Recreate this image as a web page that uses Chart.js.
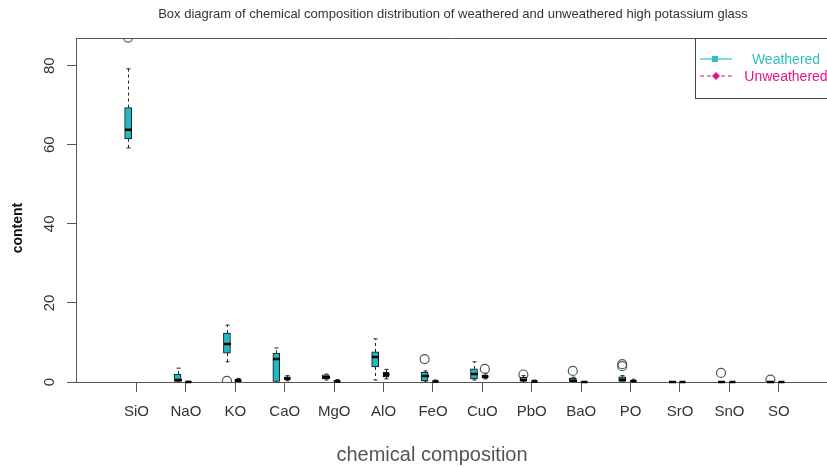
<!DOCTYPE html>
<html>
<head>
<meta charset="utf-8">
<script src="https://cdn.jsdelivr.net/npm/chart.js@4"></script>
<style>
  html, body { margin: 0; padding: 0; background: #fff; overflow: hidden; }
  canvas { display: block; }
</style>
</head>
<body>
<canvas id="chart" width="827" height="468"></canvas>
<script>
// ===== Data =====
const categories = ["SiO", "NaO", "KO", "CaO", "MgO", "AlO", "FeO", "CuO", "PbO", "BaO", "PO", "SrO", "SnO", "SO"];
const yTicks = [0, 20, 40, 60, 80];

// weathered (box stats per category)
const wMin = [59.2, 0, 5.1, 0, 0.5, 0.5, 0, 0.5, 0, 0, 0, 0, 0, 0];
const wQ1  = [61.5, 0, 7.3, 0, 0.8, 3.8, 0.3, 0.8, 0.2, 0, 0, 0, 0, 0];
const wMed = [63.8, 0.5, 9.6, 5.8, 1.2, 6.3, 1.5, 2.0, 0.5, 0.3, 0.6, 0, 0, 0];
const wQ3  = [69.4, 2.0, 12.4, 7.3, 1.8, 7.6, 2.5, 3.3, 1.2, 1.0, 1.3, 0, 0, 0];
const wMax = [79.2, 3.5, 14.4, 8.6, 2.0, 10.9, 2.8, 5.1, 1.6, 1.2, 1.6, 0, 0, 0];
const wOut = [[87.1], [], [0.3], [], [], [], [5.8], [], [1.9], [2.8], [4.0, 4.5], [], [2.3], [0.6]];

// unweathered
const uMin = [null, 0, 0, 0.3, 0, 0.8, 0, 0.8, 0, 0, 0, 0, 0, 0];
const uQ1  = [null, 0, 0.1, 0.6, 0, 1.3, 0, 1.0, 0, 0, 0, 0, 0, 0];
const uMed = [null, 0, 0.3, 0.9, 0.1, 1.9, 0.1, 1.4, 0.1, 0, 0.2, 0, 0, 0];
const uQ3  = [null, 0.1, 0.7, 1.3, 0.4, 2.5, 0.3, 1.8, 0.3, 0.1, 0.5, 0, 0, 0];
const uMax = [null, 0.2, 0.9, 1.6, 0.6, 3.2, 0.5, 2.2, 0.5, 0.1, 0.7, 0.1, 0.1, 0.1];
const uOut = [[], [], [], [], [], [], [], [3.3], [], [], [], [], [], []];

// ===== Groups (style + position shift) =====
const groups = [
  { name: "Weathered", shift: -0.17, half: 3, fill: "#22b8c0", text: "#2fbfc0",
    min: wMin, q1: wQ1, med: wMed, q3: wQ3, max: wMax, out: wOut },
  { name: "Unweathered", shift: 0.05, half: 2.5, fill: "#7d1838", text: "#e2168a",
    min: uMin, q1: uQ1, med: uMed, q3: uQ3, max: uMax, out: uOut }
];

function boxData(g) {
  const pts = [];
  categories.forEach((c, i) => {
    if (g.q1[i] == null) return;
    pts.push({ x: i + 1 + g.shift, y: [g.q1[i], g.q3[i]] });
  });
  return pts;
}

function outlierData(g) {
  const pts = [];
  g.out.forEach((list, i) => list.forEach(v => pts.push({ x: i + 1 + g.shift, y: v })));
  return pts;
}

// ===== Whiskers, medians, frame, texts, legend =====
const boxPlugin = {
  id: "boxExtras",
  beforeDatasetsDraw(chart) {
    const { ctx, chartArea, scales: { x, y } } = chart;
    ctx.save();
    ctx.beginPath();
    ctx.rect(chartArea.left, chartArea.top, chartArea.right - chartArea.left, chartArea.bottom - chartArea.top);
    ctx.clip();
    ctx.strokeStyle = "#222";
    ctx.lineWidth = 1;
    groups.forEach(g => {
      categories.forEach((c, i) => {
        if (g.med[i] == null) return;
        const px = Math.round(x.getPixelForValue(i + 1 + g.shift)) + 0.5;
        const yq1 = y.getPixelForValue(g.q1[i]), yq3 = y.getPixelForValue(g.q3[i]);
        const ymin = y.getPixelForValue(g.min[i]), ymax = y.getPixelForValue(g.max[i]);
        ctx.setLineDash([3, 3]);
        ctx.beginPath();
        ctx.moveTo(px, yq3); ctx.lineTo(px, ymax);
        ctx.moveTo(px, yq1); ctx.lineTo(px, ymin);
        ctx.stroke();
        ctx.setLineDash([]);
        ctx.beginPath();
        ctx.moveTo(px - 2, ymax); ctx.lineTo(px + 2, ymax);
        ctx.moveTo(px - 2, ymin); ctx.lineTo(px + 2, ymin);
        ctx.stroke();
      });
    });
    ctx.restore();
  },
  afterDatasetsDraw(chart) {
    const { ctx, chartArea, scales: { x, y } } = chart;
    ctx.save();
    ctx.beginPath();
    ctx.rect(chartArea.left, chartArea.top, chartArea.right - chartArea.left, chartArea.bottom - chartArea.top + 2);
    ctx.clip();
    ctx.strokeStyle = "#000";
    ctx.lineWidth = 2.5;
    groups.forEach(g => {
      categories.forEach((c, i) => {
        if (g.med[i] == null) return;
        const px = Math.round(x.getPixelForValue(i + 1 + g.shift)) + 0.5;
        const ym = y.getPixelForValue(g.med[i]);
        ctx.beginPath();
        ctx.moveTo(px - g.half - 0.5, ym);
        ctx.lineTo(px + g.half + 0.5, ym);
        ctx.stroke();
      });
    });
    ctx.restore();
  },
  afterDraw(chart) {
    const { ctx, chartArea, scales: { y } } = chart;
    ctx.save();
    // top frame line
    ctx.strokeStyle = "#555";
    ctx.lineWidth = 1;
    ctx.beginPath();
    ctx.moveTo(chartArea.left, chartArea.top + 0.5);
    ctx.lineTo(827, chartArea.top + 0.5);
    ctx.moveTo(chartArea.right, chartArea.bottom + 0.5);
    ctx.lineTo(827, chartArea.bottom + 0.5);
    ctx.stroke();

    // title
    ctx.fillStyle = "#333";
    ctx.textAlign = "center";
    ctx.textBaseline = "middle";
    ctx.font = "13px 'Liberation Sans Narrow', 'Liberation Sans', Arial";
    ctx.fillText("Box diagram of chemical composition distribution of weathered and unweathered high potassium glass", 453, 14);

    // y tick labels (rotated, like R)
    ctx.font = "15px 'Liberation Sans', Arial";
    ctx.fillStyle = "#333";
    yTicks.forEach(v => {
      ctx.save();
      ctx.translate(50, y.getPixelForValue(v));
      ctx.rotate(-Math.PI / 2);
      ctx.fillText(String(v), 0, 0);
      ctx.restore();
    });

    // y title
    ctx.save();
    ctx.translate(18, 228);
    ctx.rotate(-Math.PI / 2);
    ctx.font = "bold 14px 'Liberation Sans', Arial";
    ctx.fillStyle = "#111";
    ctx.fillText("content", 0, 0);
    ctx.restore();

    // x title
    ctx.font = "20px 'Liberation Sans', Arial";
    ctx.fillStyle = "#555";
    ctx.fillText("chemical composition", 432, 455);

    // legend box
    ctx.strokeStyle = "#444";
    ctx.lineWidth = 1;
    ctx.strokeRect(695.5, 38.5, 140, 60);
    const rows = [59, 76];
    groups.forEach((g, k) => {
      const ly = rows[k];
      ctx.strokeStyle = g.text;
      ctx.fillStyle = g.text;
      ctx.lineWidth = 1.2;
      ctx.setLineDash(k === 0 ? [] : [4, 3]);
      ctx.beginPath();
      ctx.moveTo(700, ly); ctx.lineTo(732, ly);
      ctx.stroke();
      ctx.setLineDash([]);
      if (k === 0) {
        ctx.fillRect(712, ly - 3, 6, 6);
      } else {
        ctx.beginPath();
        ctx.moveTo(716, ly - 4); ctx.lineTo(720, ly); ctx.lineTo(716, ly + 4); ctx.lineTo(712, ly);
        ctx.closePath();
        ctx.fill();
      }
      ctx.font = "14px 'Liberation Sans', Arial";
      ctx.textAlign = "center";
      ctx.fillText(g.name, 786, ly + 1);
    });
    ctx.restore();
  }
};

// ===== Chart =====
const datasets = [];
groups.forEach(g => {
  datasets.push({
    type: "bar",
    label: g.name,
    data: boxData(g),
    backgroundColor: g.fill,
    borderColor: "#111",
    borderWidth: 1,
    borderSkipped: false,
    barThickness: g.half * 2 + 1,
    grouped: false
  });
});
groups.forEach(g => {
  datasets.push({
    type: "scatter",
    label: g.name + " outliers",
    data: outlierData(g),
    pointStyle: "circle",
    pointRadius: 4.5,
    pointBorderWidth: 1.2,
    pointBorderColor: "#555",
    pointBackgroundColor: "rgba(0,0,0,0)"
  });
});

new Chart(document.getElementById("chart"), {
  type: "bar",
  data: { datasets },
  plugins: [boxPlugin],
  options: {
    responsive: false,
    animation: false,
    layout: { padding: { top: 38, left: 0, right: 0, bottom: 0 } },
    plugins: {
      legend: { display: false },
      title: { display: false },
      tooltip: { enabled: false }
    },
    scales: {
      x: {
        type: "linear",
        offset: false,
        min: -0.225,
        max: 14.86,
        afterBuildTicks: axis => { axis.ticks = categories.map((c, i) => ({ value: i + 1 })); },
        afterFit: axis => { axis.height = 86; },
        grid: { display: true, offset: false, drawOnChartArea: false, drawTicks: true, tickLength: 10, color: "#555" },
        border: { display: true, color: "#555", width: 1 },
        ticks: {
          autoSkip: false,
          maxRotation: 0,
          padding: 11,
          color: "#333",
          font: { family: "'Liberation Sans', Arial", size: 15 },
          callback: v => categories[v - 1] || ""
        }
      },
      y: {
        type: "linear",
        min: 0,
        max: 87,
        afterBuildTicks: axis => { axis.ticks = yTicks.map(v => ({ value: v })); },
        afterFit: axis => { axis.width = 76; },
        grid: { display: true, drawOnChartArea: false, drawTicks: true, tickLength: 9, color: "#555" },
        border: { display: true, color: "#555", width: 1 },
        ticks: { display: false }
      }
    }
  }
});
</script>
</body>
</html>
